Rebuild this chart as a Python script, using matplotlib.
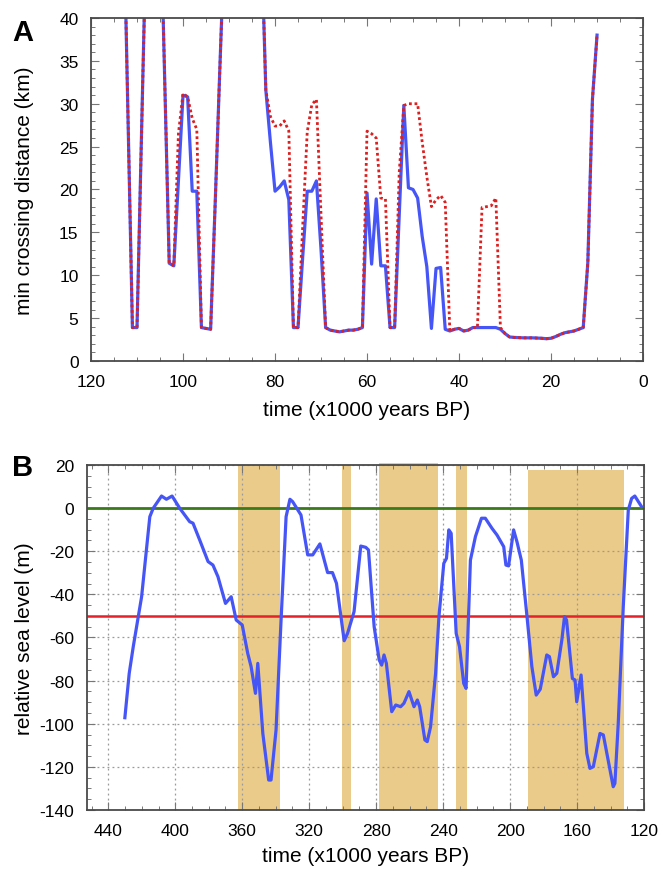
#!/usr/bin/env python3
"""Two-panel figure: min crossing distance (A) and relative sea level (B)."""
import numpy as np
import matplotlib
matplotlib.use("Agg")
import matplotlib.pyplot as plt
from matplotlib.ticker import MultipleLocator

plt.rcParams["font.family"] = ["Liberation Sans", "DejaVu Sans"]
plt.rcParams["axes.unicode_minus"] = False

# ---- panel A: min crossing distance (km) vs time (kyr BP)
time_a = [113, 111, 110, 108, 105, 103, 102, 101, 100, 99, 98, 97, 96, 95, 94,
          93, 92, 91, 88, 84, 83, 82, 81, 80, 79, 78, 77, 76, 75, 74, 73, 72,
          71, 70, 69, 68, 67, 66, 65, 64, 63, 62, 61, 60, 59, 58, 57, 56, 55,
          54, 53, 52, 51, 50, 49, 48, 47, 46, 45, 44, 43, 42, 41, 40, 39, 38,
          37, 36, 35, 34, 33, 32, 31, 30, 29, 28, 26, 24, 22, 21, 20, 19, 18,
          17, 16, 15, 14, 13, 12, 11, 10]
dist_solid = [55, 3.9, 3.9, 50, 55, 11.4, 11.1, 21, 31, 30.8, 19.8, 19.8, 3.9,
              3.8, 3.7, 18.5, 34, 49, 60, 60, 50, 31.6, 25.5, 19.8, 20.3, 21,
              18.8, 3.9, 3.9, 12, 19.8, 19.8, 21, 13, 3.9, 3.6, 3.5, 3.4, 3.5,
              3.6, 3.6, 3.7, 3.9, 19.6, 11.3, 18.9, 11.1, 11.1, 3.9, 3.9, 17,
              29.8, 20.2, 20, 19, 14.5, 11, 3.8, 10.8, 10.9, 3.7, 3.5, 3.7, 3.8,
              3.5, 3.6, 3.9, 3.9, 3.9, 3.9, 3.9, 3.9, 3.7, 3.2, 2.8, 2.75, 2.7,
              2.7, 2.65, 2.6, 2.65, 2.85, 3.1, 3.3, 3.4, 3.5, 3.7, 3.9, 11.5,
              30.5, 38]
dist_dotted = [55, 3.9, 3.9, 50, 55, 11.4, 11.1, 26.5, 31.2, 30.8, 28.3, 27.0,
               3.9, 3.8, 3.7, 18.5, 34, 49, 60, 60, 50, 31.6, 28.5, 27.4, 27.4,
               28, 26.8, 3.9, 3.9, 15.5, 26.7, 29.9, 30.5, 17, 3.9, 3.6, 3.5,
               3.4, 3.5, 3.6, 3.6, 3.7, 3.9, 26.8, 26.5, 26, 19, 18.9, 3.9, 3.9,
               22, 29.8, 30, 30, 30, 25.5, 21.5, 18, 18.8, 19.3, 18.5, 3.5, 3.7,
               3.8, 3.5, 3.6, 3.9, 3.9, 17.9, 18, 18.1, 19, 3.9, 3.2, 2.8, 2.75,
               2.7, 2.7, 2.65, 2.6, 2.65, 2.85, 3.1, 3.3, 3.4, 3.5, 3.7, 3.9,
               11.5, 30.5, 38]

# ---- panel B: relative sea level (m) vs time (kyr BP)
time_b = [430.1, 427.5, 425.1, 420.1, 415.2, 413.2, 408.2, 405.3, 401.9, 397.3,
          391.4, 389.4, 385.4, 380.4, 377.5, 374.5, 370.0, 366.6, 363.6, 360.0,
          356.7, 354.7, 352.1, 350.7, 347.7, 344.2, 342.8, 339.8, 336.8, 333.8,
          331.5, 329.9, 324.9, 320.9, 317.9, 313.6, 309.0, 306.1, 303.7, 299.1,
          297.1, 293.2, 289.2, 286.2, 284.6, 281.2, 278.2, 276.7, 275.3, 273.9,
          270.7, 268.3, 265.4, 263.4, 260.4, 257.4, 255.4, 254.0, 250.9, 249.5,
          247.5, 244.5, 242.5, 239.6, 238.0, 236.6, 235.2, 232.2, 230.2, 227.7,
          226.3, 223.7, 220.7, 217.1, 214.8, 210.8, 207.8, 203.8, 202.5, 200.9,
          197.9, 195.9, 193.3, 189.9, 187.0, 184.4, 182.0, 178.1, 176.5, 174.1,
          172.1, 169.1, 167.5, 166.3, 162.8, 161.2, 160.2, 157.6, 154.2, 152.3,
          150.3, 146.3, 144.3, 138.4, 137.4, 135.4, 132.4, 129.4, 127.4, 125.5,
          121.5]
sea_level = [-97.2, -76.6, -64.3, -41.1, -4, -0.1, 5.6, 4.1, 5.6, -0.1,
             -6.3, -7, -14.8, -24.8, -26.4, -31.8, -44.2, -41.1, -51.9, -54.2,
             -67.4, -73.5, -85.9, -72, -104.5, -126.1, -126.1, -102.9, -51.9, -4,
             4.1, 3, -3.2, -21.7, -21.7, -16.6, -29.9, -29.9, -34.9, -61.5,
             -58.1, -48, -17.6, -18.2, -19.4, -55, -70.4, -72.8, -68.1, -72,
             -94.4, -91.3, -92.1, -90.5, -85.1, -92.1, -89, -92.1, -107.5, -108.3,
             -101.4, -76.6, -50.3, -25.6, -23.3, -10.1, -11.7, -58.1, -64.3, -81.3,
             -83.6, -24.1, -13.2, -4.7, -4.7, -9.4, -12.5, -17.9, -26.4, -26.8,
             -10.1, -15.6, -24.1, -50.3, -73.5, -86.7, -84, -68.1, -68.9, -78.2,
             -76.6, -61.2, -50.3, -51.9, -79, -79.7, -89.8, -77.4, -113.7, -120.7,
             -119.9, -104.5, -105.2, -129.2, -127.6, -99.8, -45.7, -0.9, 4.5, 5.6,
             0.7]

# shaded intervals (kyr BP) and their top edge (m)
band_start = [362.7, 300.5, 278.2, 232.4, 189.3]
band_end = [337.5, 295.3, 243.3, 226.0, 132.1]
band_top = [20, 20, 21, 19.5, 17.5]

present_level = 0
threshold_level = -50

SPINE = "#4a4a4a"


def style_axes(ax, xmajor, xminor, ymajor, yminor):
    ax.xaxis.set_major_locator(MultipleLocator(xmajor))
    ax.xaxis.set_minor_locator(MultipleLocator(xminor))
    ax.yaxis.set_major_locator(MultipleLocator(ymajor))
    ax.yaxis.set_minor_locator(MultipleLocator(yminor))
    ax.tick_params(which="both", direction="in", top=True, right=True,
                   color="#777777", labelsize=12.5, labelcolor="black")
    ax.tick_params(which="major", length=6, width=0.8, pad=9)
    ax.tick_params(which="minor", length=3, width=0.7)
    for sp in ax.spines.values():
        sp.set_color(SPINE)
        sp.set_linewidth(1.3)


fig = plt.figure(figsize=(6.6, 8.7), dpi=100)
ax_a = fig.add_axes([0.1379, 0.5839, 0.8364, 0.3943])
ax_b = fig.add_axes([0.1311, 0.0678, 0.8447, 0.3966])

# panel A
ax_a.plot(time_a, dist_solid, color="#4655f5", lw=2.3, solid_joinstyle="round")
ax_a.plot(time_a, dist_dotted, color="#dd1f1f", lw=2.0,
          linestyle=(0, (1.0, 1.0)))
ax_a.set_xlim(120, 0)
ax_a.set_ylim(0, 40)
style_axes(ax_a, 20, 5, 5, 1)
ax_a.set_xlabel("time (x1000 years BP)", fontsize=15)
ax_a.set_ylabel("min crossing distance (km)", fontsize=15)
ax_a.xaxis.set_label_coords(0.5, -0.113)
ax_a.yaxis.set_label_coords(-0.103, 0.5)

# panel B
for s, e, top in zip(band_start, band_end, band_top):
    ax_b.bar((s + e) / 2, top + 140, width=s - e, bottom=-140,
             color="#ebcb89", edgecolor="none", zorder=0.2, clip_on=False)
ax_b.set_axisbelow(True)
ax_b.grid(True, which="major", color="#9a9a9a", lw=0.9,
          linestyle=(0, (1.5, 2.5)))
ax_b.axhline(present_level, color="#3b7a1c", lw=2.0, zorder=2)
ax_b.axhline(threshold_level, color="#e5212a", lw=1.8, zorder=2)
ax_b.plot(time_b, sea_level, color="#4655f5", lw=2.3, zorder=3,
          solid_joinstyle="round")
ax_b.set_xlim(453, 120)
ax_b.set_ylim(-140, 20)
style_axes(ax_b, 40, 10, 20, 5)
ax_b.set_xlabel("time (x1000 years BP)", fontsize=15)
ax_b.set_ylabel("relative sea level (m)", fontsize=15)
ax_b.xaxis.set_label_coords(0.5, -0.105)
ax_b.yaxis.set_label_coords(-0.094, 0.5)

fig.text(0.018, 0.962, "A", fontsize=21, fontweight="bold", va="center")
fig.text(0.018, 0.462, "B", fontsize=21, fontweight="bold", va="center")

fig.savefig("out.png", dpi=100)
